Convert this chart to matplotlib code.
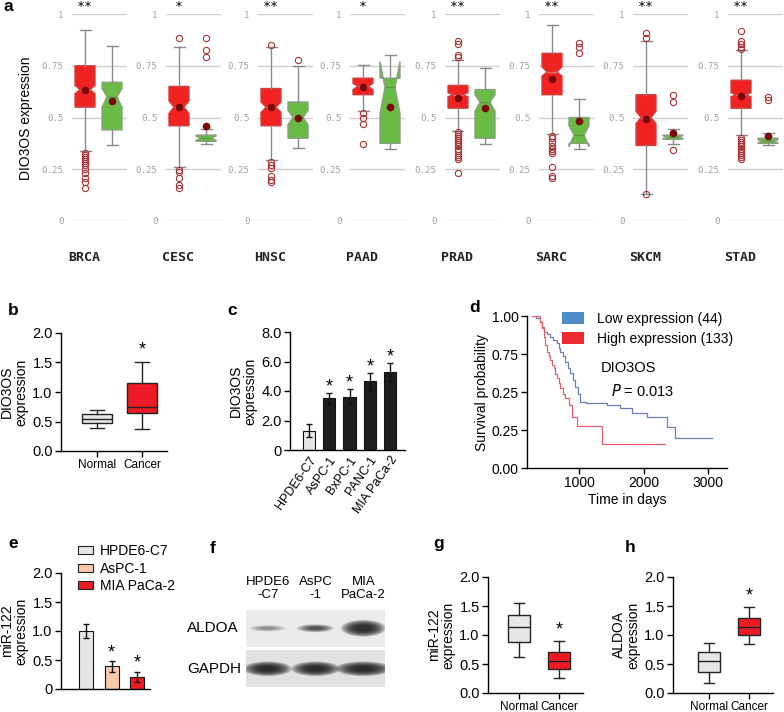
import numpy as np
import matplotlib
matplotlib.use('Agg')
import matplotlib.pyplot as plt
from matplotlib.patches import Patch, Ellipse, Rectangle

plt.rcParams['font.family'] = ['Liberation Sans', 'DejaVu Sans']
mono = 'DejaVu Sans Mono'

W, H = 784, 712
fig = plt.figure(figsize=(W/100., H/100.), dpi=100)

# ---------------- data ----------------
# panel a : TCGA boxes, (q1, med, q3, whislo, whishi, mean, cilo, cihi)
cancers  = ['BRCA', 'CESC', 'HNSC', 'PAAD', 'PRAD', 'SARC', 'SKCM', 'STAD']
stars_a  = ['**', '*', '**', '*', '**', '**', '**', '**']
tumor_st = [[0.55, 0.635, 0.75, 0.34, 0.925, 0.635, 0.615, 0.655],
            [0.46, 0.55, 0.65, 0.26, 0.84, 0.55, 0.52, 0.58],
            [0.46, 0.55, 0.64, 0.295, 0.84, 0.55, 0.525, 0.575],
            [0.61, 0.65, 0.69, 0.53, 0.755, 0.645, 0.635, 0.665],
            [0.545, 0.61, 0.655, 0.435, 0.78, 0.595, 0.60, 0.62],
            [0.61, 0.72, 0.81, 0.42, 0.945, 0.685, 0.70, 0.745],
            [0.365, 0.50, 0.61, 0.13, 0.87, 0.495, 0.47, 0.53],
            [0.545, 0.61, 0.68, 0.415, 0.825, 0.605, 0.60, 0.62]]
normal_st = [[0.44, 0.60, 0.67, 0.365, 0.845, 0.58, 0.55, 0.64],
             [0.385, 0.40, 0.415, 0.37, 0.445, 0.46, 0.39, 0.41],
             [0.40, 0.50, 0.575, 0.355, 0.75, 0.50, 0.465, 0.535],
             [0.375, 0.645, 0.69, 0.35, 0.80, 0.55, 0.52, 0.77],
             [0.40, 0.575, 0.635, 0.37, 0.74, 0.545, 0.53, 0.61],
             [0.375, 0.415, 0.50, 0.35, 0.59, 0.485, 0.36, 0.46],
             [0.395, 0.405, 0.415, 0.37, 0.445, 0.425, 0.398, 0.412],
             [0.375, 0.385, 0.40, 0.365, 0.425, 0.41, 0.378, 0.392]]
tumor_fl = [[0.33, 0.32, 0.31, 0.30, 0.29, 0.28, 0.27, 0.25, 0.23, 0.21, 0.19, 0.16],
            [0.885, 0.245, 0.235, 0.21, 0.175, 0.16],
            [0.85, 0.283, 0.27, 0.255, 0.215, 0.20, 0.19],
            [0.52, 0.50, 0.47, 0.37],
            [0.87, 0.855, 0.80, 0.79, 0.43, 0.42, 0.41, 0.40, 0.39, 0.38, 0.37,
             0.36, 0.35, 0.34, 0.32, 0.31, 0.30, 0.23],
            [0.41, 0.40, 0.38, 0.36, 0.35, 0.34, 0.33, 0.26, 0.215, 0.21],
            [0.91, 0.885, 0.13],
            [0.92, 0.87, 0.855, 0.84, 0.83, 0.40, 0.39, 0.38, 0.37, 0.36, 0.35,
             0.34, 0.33, 0.32, 0.31, 0.30]]
normal_fl = [[], [0.885, 0.825, 0.79], [0.778], [], [],
             [0.858, 0.842, 0.81], [0.61, 0.577, 0.343], [0.60, 0.585]]
a_yticks = [0, 0.25, 0.5, 0.75, 1]
a_yticklabels = ['0', '0.25', '0.5', '0.75', '1']

# panel b : (q1, med, q3, whislo, whishi)
b_groups = ['Normal', 'Cancer']
b_stats  = [[0.47, 0.55, 0.62, 0.39, 0.70], [0.65, 0.75, 1.15, 0.37, 1.51]]

# panel c
c_cells = ['HPDE6-C7', 'AsPC-1', 'BxPC-1', 'PANC-1', 'MIA PaCa-2']
c_vals  = [1.32, 3.5, 3.62, 4.65, 5.28]
c_err   = [0.42, 0.35, 0.5, 0.55, 0.6]

# panel d : Kaplan-Meier steps (time in days, survival)
low_t  = [266, 330, 395, 420, 447, 500, 550, 600, 654, 680, 705, 745, 783, 820,
          860, 900, 938, 975, 1016, 1100, 1222, 1429, 1636, 1817, 2050, 2360, 2488, 3057]
low_s  = [1.0, 0.985, 0.963, 0.93, 0.897, 0.88, 0.864, 0.845, 0.82, 0.79, 0.765, 0.735,
          0.70, 0.66, 0.623, 0.58, 0.535, 0.485, 0.436, 0.43, 0.425, 0.414, 0.393, 0.36,
          0.338, 0.272, 0.195, 0.195]
high_t = [266, 395, 420, 447, 475, 499, 525, 550, 575, 602, 628, 654, 680, 705, 745,
          783, 835, 886, 964, 1352, 2333]
high_s = [1.0, 0.963, 0.92, 0.864, 0.81, 0.765, 0.735, 0.71, 0.68, 0.656, 0.62, 0.59,
          0.556, 0.524, 0.49, 0.459, 0.414, 0.338, 0.278, 0.158, 0.158]

# panel e
e_cells = ['HPDE6-C7', 'AsPC-1', 'MIA PaCa-2']
e_vals  = [1.0, 0.39, 0.21]
e_err   = [0.12, 0.09, 0.09]

# panel f : western blot band strengths
blot_rows  = ['ALDOA', 'GAPDH']
blot_lanes = ['HPDE6\n-C7', 'AsPC\n-1', 'MIA\nPaCa-2']
band_str   = [[0.3, 0.6, 1.0], [1.0, 1.0, 1.0]]

# panel g / h
g_stats = [[0.88, 1.14, 1.34, 0.62, 1.56], [0.42, 0.56, 0.71, 0.26, 0.90]]
h_stats = [[0.36, 0.55, 0.71, 0.18, 0.86], [1.00, 1.14, 1.30, 0.85, 1.48]]

RED = '#ed1c24'
LGRAY = '#e6e6e6'


def px_axes(l, t, r, b):
    return fig.add_axes([l/W, 1-b/H, (r-l)/W, (b-t)/H])


def ftext(x, y, s, **kw):
    fig.text(x/W, 1-y/H, s, **kw)


def simple_style(ax, fs=10.5):
    for s in ['top', 'right']:
        ax.spines[s].set_visible(False)
    for s in ['left', 'bottom']:
        ax.spines[s].set_linewidth(1.0)
    ax.tick_params(direction='out', length=4, width=1, labelsize=fs, pad=2)


def small_box(ax, stats, pos, width):
    bs = [dict(q1=s[0], med=s[1], q3=s[2], whislo=s[3], whishi=s[4], fliers=[]) for s in stats]
    bp = ax.bxp(bs, positions=pos, widths=width, patch_artist=True, manage_ticks=False,
                capwidths=width*0.45,
                boxprops=dict(edgecolor='#222222', linewidth=1),
                whiskerprops=dict(color='#222222', linewidth=1),
                capprops=dict(color='#222222', linewidth=1),
                medianprops=dict(color='#222222', linewidth=1))
    for patch, col in zip(bp['boxes'], [LGRAY, RED]):
        patch.set_facecolor(col)
    return bp


# ---------------- panel a ----------------
ftext(3, 11, 'a', fontsize=12.5, fontweight='bold')
a_left = [72, 166, 258, 350, 445, 539, 633, 728]
for i, cname in enumerate(cancers):
    ax = px_axes(a_left[i], 14, a_left[i]+55, 221)
    ax.set_xlim(0, 2.75)
    ax.set_ylim(0, 1)
    for s in ax.spines.values():
        s.set_visible(False)
    ax.set_xticks([])
    ax.set_yticks(a_yticks)
    ax.set_yticklabels(a_yticklabels, family=mono, fontsize=6.6, color='#a0a0a0')
    ax.tick_params(axis='y', length=0, pad=6)
    ax.grid(axis='y', color='#cfcfcf', lw=1)
    ax.set_axisbelow(True)
    stats = []
    for st, fl in [(tumor_st[i], tumor_fl[i]), (normal_st[i], normal_fl[i])]:
        stats.append(dict(q1=st[0], med=st[1], q3=st[2], whislo=st[3], whishi=st[4],
                          mean=st[5], cilo=st[6], cihi=st[7], fliers=fl))
    bp = ax.bxp(stats, positions=[0.65, 2.0], widths=1.0, shownotches=True, showmeans=True,
                patch_artist=True, manage_ticks=False, capwidths=0.55,
                whiskerprops=dict(color='#8a8a8a', linewidth=1),
                capprops=dict(color='#8a8a8a', linewidth=1),
                medianprops=dict(linewidth=1),
                meanprops=dict(marker='o', markerfacecolor='#7a0a0a',
                               markeredgecolor='#7a0a0a', markersize=4.5),
                flierprops=dict(marker='o', markerfacecolor='none',
                                markeredgecolor='#a83232', markersize=4.5, markeredgewidth=0.8))
    bp['boxes'][0].set_facecolor('#f02222')
    bp['boxes'][0].set_edgecolor('#d04040')
    bp['boxes'][1].set_facecolor('#6abb45')
    bp['boxes'][1].set_edgecolor('#8aa080')
    bp['medians'][0].set_color('#f36a6a')
    bp['medians'][1].set_color('#5a9a3a')
    ax.text(0.6, -0.175, cname, ha='center', va='center', family=mono, fontsize=9.5,
            fontweight='bold', color='#222222', clip_on=False)
    ax.text(0.65, 1.035, stars_a[i], ha='center', va='center', family=mono, fontsize=9.5,
            clip_on=False)
ftext(26, 118, 'DIO3OS expression', rotation=90, ha='center', va='center', fontsize=10)

# ---------------- panel b ----------------
ftext(13, 315, 'b', fontsize=12.5, fontweight='bold', ha='center')
axb = px_axes(61, 333, 167, 451)
small_box(axb, b_stats, [1, 2], 0.67)
axb.set_xlim(0.2, 2.56)
axb.set_ylim(0, 2)
axb.set_yticks([0, 0.5, 1.0, 1.5, 2.0])
axb.set_yticklabels(['0.0', '0.5', '1.0', '1.5', '2.0'])
axb.set_xticks([1, 2])
axb.set_xticklabels(b_groups, fontsize=8.5)
simple_style(axb)
axb.tick_params(axis='x', labelsize=8.5)
axb.text(2, b_stats[1][4] + 0.2, '*', ha='center', va='center', fontsize=13)
axb.set_ylabel('DIO3OS\nexpression', fontsize=10, labelpad=3, linespacing=1.0)

# ---------------- panel c ----------------
ftext(232, 315, 'c', fontsize=12.5, fontweight='bold', ha='center')
axc = px_axes(290, 332, 405, 450)
xc = np.arange(len(c_cells))
axc.bar(xc, c_vals, width=0.6, yerr=c_err, color=[LGRAY] + ['#1e1e1e']*4,
        edgecolor='#111111', linewidth=0.8, capsize=2.5,
        error_kw=dict(lw=1, capthick=1, ecolor='#111111'))
for x, v, e in zip(xc[1:], c_vals[1:], c_err[1:]):
    axc.text(x, v + e + 0.45, '*', ha='center', va='center', fontsize=13)
axc.set_xlim(-0.94, 4.74)
axc.set_ylim(0, 8)
axc.set_yticks([0, 2, 4, 6, 8])
axc.set_yticklabels(['0', '2.0', '4.0', '6.0', '8.0'])
simple_style(axc)
axc.set_xticks(xc)
axc.set_xticklabels(c_cells, rotation=55, ha='right', va='top', rotation_mode='anchor',
                    fontsize=9)
axc.tick_params(axis='x', length=0, pad=3)
axc.set_ylabel('DIO3OS\nexpression', fontsize=10, labelpad=3, linespacing=1.0)

# ---------------- panel d ----------------
ftext(475, 312, 'd', fontsize=12.5, fontweight='bold', ha='center')
axd = px_axes(527, 316, 727, 468)
axd.step(low_t, low_s, where='post', color='#6e7fb2', lw=0.9)
axd.step(high_t, high_s, where='post', color='#e2606e', lw=0.9)
axd.set_xlim(190, 3290)
axd.set_ylim(0, 1)
axd.set_xticks([1000, 2000, 3000])
axd.set_yticks([0, 0.25, 0.5, 0.75, 1.0])
axd.set_yticklabels(['0.00', '0.25', '0.25', '0.75', '1.00'])
simple_style(axd, fs=10)
axd.set_ylabel('Survival probability', fontsize=10, labelpad=2)
axd.set_xlabel('Time in days', fontsize=10, labelpad=2)
axd.text(0.37, 0.66, 'DIO3OS', transform=axd.transAxes, ha='left', va='center', fontsize=10.5)
axd.text(0.42, 0.505, r'$P$ = 0.013', transform=axd.transAxes, ha='left', va='center',
         fontsize=10.5)
axd.legend(handles=[Patch(facecolor='#4f8ccc', edgecolor='none', label='Low expression (44)'),
                    Patch(facecolor='#ee2a30', edgecolor='none', label='High expression (133)')],
           loc='upper left', bbox_to_anchor=(562/W, 1-312/H), bbox_transform=fig.transFigure,
           frameon=False, fontsize=10, handlelength=1.6, handleheight=0.95,
           handletextpad=0.9, labelspacing=0.45, borderpad=0, borderaxespad=0)

# ---------------- panel e ----------------
ftext(13, 548, 'e', fontsize=12.5, fontweight='bold', ha='center')
axe = px_axes(61, 573, 150, 689)
xe = np.arange(len(e_cells))
e_cols = [LGRAY, '#f8c9ab', RED]
bars = axe.bar(xe, e_vals, width=0.55, yerr=e_err, color=e_cols, edgecolor='#111111',
               linewidth=0.8, capsize=2.5, error_kw=dict(lw=1, capthick=1, ecolor='#111111'))
for x, v, e in zip(xe[1:], e_vals[1:], e_err[1:]):
    axe.text(x, v + e + 0.14, '*', ha='center', va='center', fontsize=13)
axe.set_xlim(-0.98, 2.5)
axe.set_ylim(0, 2)
axe.set_yticks([0, 0.5, 1.0, 1.5, 2.0])
axe.set_yticklabels(['0', '0.5', '1.0', '1.5', '2.0'])
axe.set_xticks([])
simple_style(axe)
axe.set_ylabel('miR-122\nexpression', fontsize=10, labelpad=3, linespacing=1.0)
axe.legend(handles=[Patch(facecolor=c, edgecolor='#222222', linewidth=0.8, label=n)
                    for c, n in zip(e_cols, e_cells)],
           loc='upper left', bbox_to_anchor=(78/W, 1-544/H), bbox_transform=fig.transFigure,
           frameon=False, fontsize=10, handlelength=1.05, handleheight=0.55,
           handletextpad=0.5, labelspacing=0.26, borderpad=0, borderaxespad=0)

# ---------------- panel f ----------------
ftext(213, 553, 'f', fontsize=12.5, fontweight='bold', ha='center')
axf = px_axes(246, 608, 385, 689)
axf.set_xlim(-0.45, 2.45)
axf.set_ylim(1.5, -0.5)
axf.axis('off')
band_w = [[0.6, 0.6, 0.72], [0.78, 0.78, 0.9]]
band_h = [[0.12, 0.15, 0.32], [0.28, 0.28, 0.28]]
for r, rname in enumerate(blot_rows):
    axf.add_patch(Rectangle((-0.45, r - 0.46), 2.9, 0.92,
                            facecolor=['#ebebeb', '#e1e1e1'][r], edgecolor='none'))
    for l in range(len(blot_lanes)):
        for sc in np.linspace(1.3, 0.45, 9):
            axf.add_patch(Ellipse((l, r), band_w[r][l]*sc, band_h[r][l]*sc,
                                  facecolor='#151515', edgecolor='none',
                                  alpha=0.2*band_str[r][l]))
    axf.text(-1.68, r, rname, ha='left', va='center', fontsize=11, clip_on=False)
for l, lname in enumerate(blot_lanes):
    axf.text(l, -0.68, lname, ha='center', va='bottom', fontsize=9.5, linespacing=1.1,
             clip_on=False)

# ---------------- panel g ----------------
ftext(439, 548, 'g', fontsize=12.5, fontweight='bold', ha='center')
axg = px_axes(488, 577, 583, 693)
small_box(axg, g_stats, [1, 2], 0.55)
axg.set_xlim(0.225, 2.6)
axg.set_ylim(0, 2)
axg.set_yticks([0, 0.5, 1.0, 1.5, 2.0])
axg.set_yticklabels(['0.0', '0.5', '1.0', '1.5', '2.0'])
axg.set_xticks([1, 2])
axg.set_xticklabels(b_groups)
simple_style(axg)
axg.tick_params(axis='x', labelsize=8.5)
axg.text(2, g_stats[1][4] + 0.18, '*', ha='center', va='center', fontsize=13)
axg.set_ylabel('miR-122\nexpression', fontsize=10, labelpad=3, linespacing=1.0)

# ---------------- panel h ----------------
ftext(630, 552, 'h', fontsize=12.5, fontweight='bold', ha='center')
axh = px_axes(673, 577, 773, 693)
small_box(axh, h_stats, [1, 2], 0.55)
axh.set_xlim(0.1, 2.6)
axh.set_ylim(0, 2)
axh.set_yticks([0, 0.5, 1.0, 1.5, 2.0])
axh.set_yticklabels(['0.0', '0.5', '1.0', '1.5', '2.0'])
axh.set_xticks([1, 2])
axh.set_xticklabels(b_groups)
simple_style(axh)
axh.tick_params(axis='x', labelsize=8.5)
axh.text(2, h_stats[1][4] + 0.2, '*', ha='center', va='center', fontsize=13)
axh.set_ylabel('ALDOA\nexpression', fontsize=10, labelpad=3, linespacing=1.0)

fig.savefig('out.png', dpi=100)
